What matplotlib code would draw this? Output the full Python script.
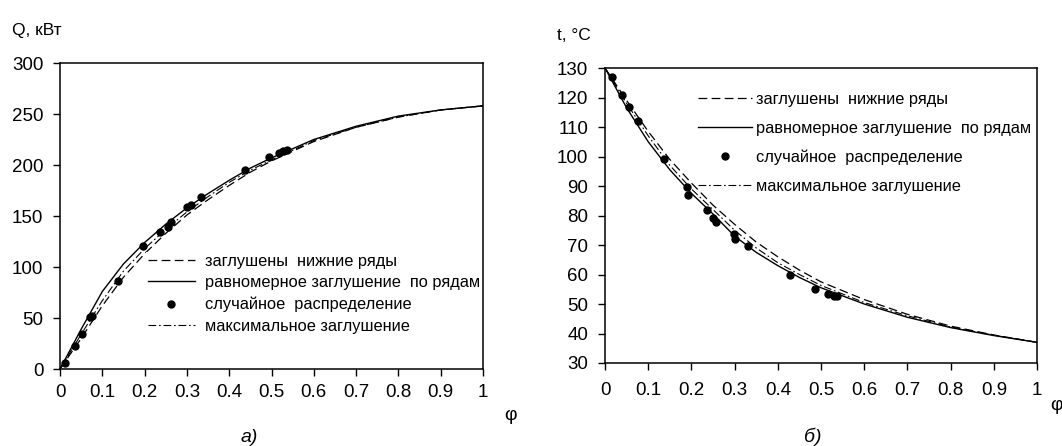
import matplotlib
matplotlib.use("Agg")
from matplotlib import pyplot as plt

plt.rcParams['font.family'] = ['Liberation Sans', 'DejaVu Sans']

### data
phi = [0, 0.05, 0.1, 0.15, 0.2, 0.25, 0.3, 0.35, 0.4, 0.45, 0.5, 0.6, 0.7, 0.8, 0.9, 1.0]

# а) тепловая мощность Q, кВт
q_lower = [0, 30, 62, 90, 113, 133, 151, 166, 180, 193, 204, 223, 237, 247, 254, 258]
q_uniform = [0, 39, 76, 103, 124, 142, 158, 172, 185, 197, 207, 225, 238, 248, 254, 258]
q_max = [0, 34, 67, 96, 118, 137, 154, 169, 183, 195, 205, 224, 237, 247, 254, 258]
phi_q_rand = [0.012, 0.035, 0.051, 0.072, 0.075, 0.136, 0.197, 0.236, 0.256, 0.262,
              0.300, 0.309, 0.333, 0.437, 0.493, 0.517, 0.528, 0.536]
q_rand = [6, 23, 34, 51, 52, 86, 121, 134, 139, 144, 159, 161, 169, 195, 208, 212, 214, 215]

# б) температура t, °C
t_lower = [130, 119, 108.5, 99, 91, 83.5, 77, 71, 66, 61.5, 57.5, 51.5, 46.5, 42.5, 39.5, 37]
t_uniform = [130, 116.5, 105, 95.5, 87.5, 80.5, 73, 67.5, 63, 59, 55.5, 50, 45.5, 42, 39.3, 37]
t_max = [130, 118, 107, 97, 89, 82, 75, 69, 64, 60, 56.3, 50.5, 46, 42.2, 39.4, 37]
phi_t_rand = [0.015, 0.039, 0.056, 0.077, 0.137, 0.189, 0.193, 0.235, 0.251, 0.258,
              0.299, 0.301, 0.330, 0.428, 0.486, 0.517, 0.529, 0.536]
t_rand = [126.9, 121, 116.8, 111.9, 99.2, 89.7, 86.8, 81.7, 79.2, 77.7,
          73.7, 72.1, 69.5, 60, 55.2, 53.4, 52.6, 52.6]

labels = ['заглушены  нижние ряды', 'равномерное заглушение  по рядам',
          'случайное  распределение', 'максимальное заглушение']
x_ticks = [0, 0.1, 0.2, 0.3, 0.4, 0.5, 0.6, 0.7, 0.8, 0.9, 1]
x_tick_labels = ['0', '0.1', '0.2', '0.3', '0.4', '0.5', '0.6', '0.7', '0.8', '0.9', '1']

dashed = (0, (7, 3.5))
dashdot = (0, (7, 2.5, 1.5, 2.5))
leg_font = {'size': 11.8}


def draw(ax, x, y1, y2, y3, xr, yr):
    ax.plot(x, y1, color='black', linestyle=dashed, linewidth=0.9, label=labels[0])
    ax.plot(x, y2, color='black', linestyle='-', linewidth=1.0, label=labels[1])
    ax.plot(xr, yr, 'o', color='black', markersize=5, linestyle='none', label=labels[2])
    ax.plot(x, y3, color='black', linestyle=dashdot, linewidth=0.8, label=labels[3])
    ax.set_xlim(0, 1)
    ax.set_xticks(x_ticks)
    ax.set_xticklabels(x_tick_labels)
    ax.tick_params(direction='out', length=5, width=1, labelsize=13.5, pad=6)
    for s in ax.spines.values():
        s.set_linewidth(1.1)


fig = plt.figure(figsize=(10.62, 4.46), dpi=100)

### left panel
ax1 = fig.add_axes([0.0565, 0.1726, 0.3983, 0.6861])
draw(ax1, phi, q_lower, q_uniform, q_max, phi_q_rand, q_rand)
ax1.set_ylim(0, 300)
ax1.set_yticks(range(0, 301, 50))
ax1.tick_params(axis='y', pad=7)
ax1.legend(loc='upper left', bbox_to_anchor=(146 / 1062, 1 - 252 / 446),
           bbox_transform=fig.transFigure, prop=leg_font, handlelength=2.9,
           handletextpad=0.6, labelspacing=0.4, borderpad=0.1, borderaxespad=0,
           frameon=True, fancybox=False, edgecolor='none', facecolor='white',
           framealpha=1.0)

### right panel
ax2 = fig.add_axes([0.5697, 0.1861, 0.4068, 0.6614])
draw(ax2, phi, t_lower, t_uniform, t_max, phi_t_rand, t_rand)
ax2.set_ylim(30, 130)
ax2.set_yticks(range(30, 131, 10))
ax2.tick_params(axis='y', pad=7)
ax2.tick_params(axis='x', pad=9)
ax2.legend(loc='upper left', bbox_to_anchor=(696 / 1062, 1 - 90 / 446),
           bbox_transform=fig.transFigure, prop=leg_font, handlelength=3.3,
           handletextpad=0.25, labelspacing=0.85, borderpad=0.1, borderaxespad=0,
           frameon=False)

### axis captions
fig.text(12 / 1062, 1 - 31 / 446, 'Q, кВт', fontsize=12.5, va='center', ha='left')
fig.text(557 / 1062, 1 - 35 / 446, 't, °C', fontsize=12.5, va='center', ha='left')
fig.text(511 / 1062, 1 - 416 / 446, 'φ', fontsize=14, va='center', ha='center')
fig.text(1050 / 1062, 1 - 405 / 446, 'φ', fontsize=14, va='center', ha='left')
fig.text(249 / 1062, 1 - 437 / 446, 'а)', fontsize=14, style='italic', va='center', ha='center')
fig.text(813 / 1062, 1 - 437 / 446, 'б)', fontsize=14, style='italic', va='center', ha='center')

fig.savefig('out.png', dpi=100)
